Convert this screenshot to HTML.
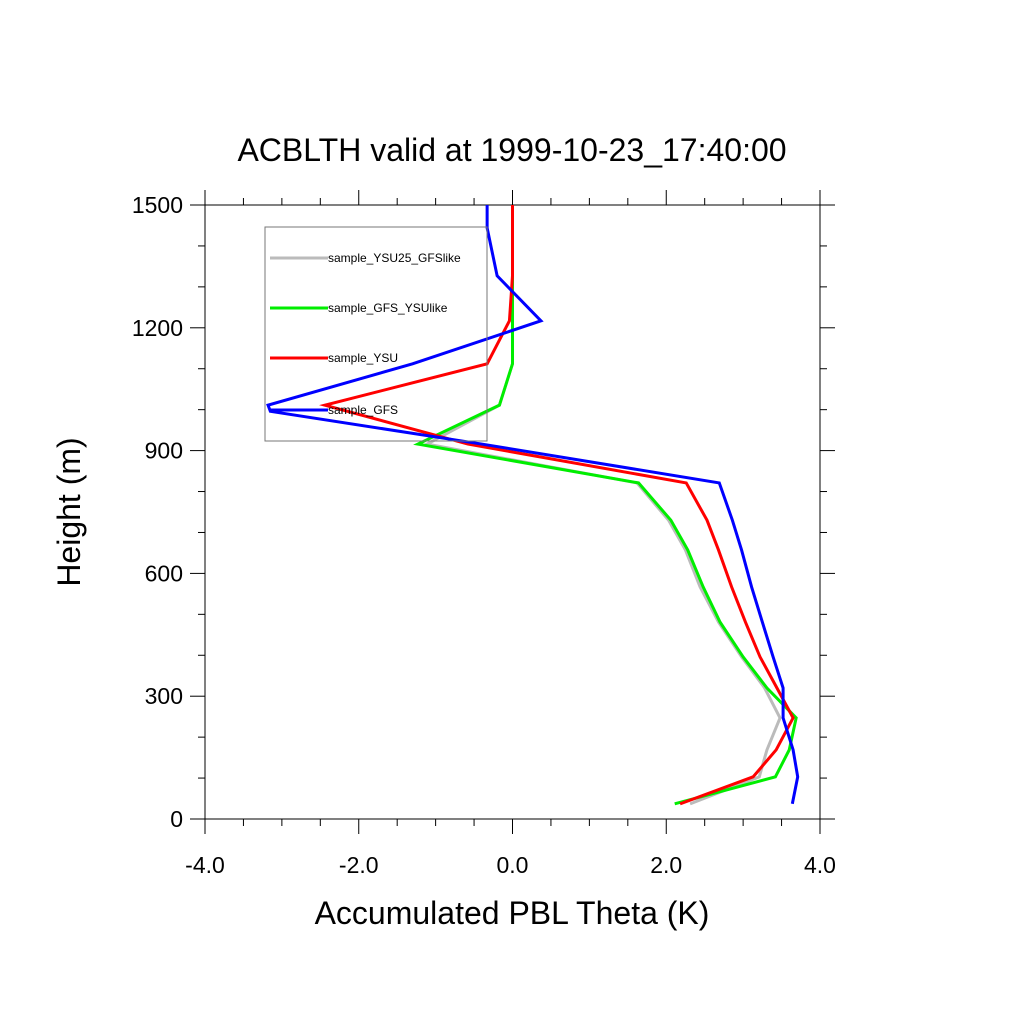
<!DOCTYPE html>
<html><head><meta charset="utf-8"><style>
body{margin:0;background:#fff}
svg{display:block;font-family:"Liberation Sans",sans-serif}
</style></head><body>
<svg id="chart" width="1024" height="1024" viewBox="0 0 1024 1024">
<rect width="1024" height="1024" fill="#fff"/>
<text x="512" y="161" font-size="32" text-anchor="middle">ACBLTH valid at 1999-10-23_17:40:00</text>
<text x="512" y="924" font-size="32" text-anchor="middle">Accumulated PBL Theta (K)</text>
<text x="0" y="0" font-size="32" text-anchor="middle" transform="translate(80,512) rotate(-90)">Height (m)</text>
<g id="axes"></g>
<g id="series"></g>
<g id="legend"></g>
</svg>
<script>
const heights = [37,103,169,247,320,396,481,567,657,730,821,916,1011,1112,1217,1327,1444,1500];
const grayVals = [2.31,3.21,3.31,3.48,3.28,2.98,2.68,2.44,2.25,2.03,1.62,-1.11,-0.17,0,0,0,0,0];
const greenVals = [2.11,3.42,3.6,3.69,3.31,3.0,2.7,2.48,2.28,2.06,1.64,-1.23,-0.17,0,0,0,0,0];
const redVals = [2.18,3.13,3.43,3.65,3.44,3.22,3.03,2.85,2.68,2.53,2.26,-0.58,-2.44,-0.33,-0.04,0,0,0];
const blueHeights = [37,103,169,247,320,396,481,567,657,730,821,916,996,1011,1112,1217,1327,1444,1500];
const blueVals = [3.64,3.71,3.65,3.52,3.52,3.39,3.25,3.11,2.98,2.86,2.69,-0.4,-3.15,-3.18,-1.3,0.37,-0.2,-0.33,-0.33];
const xTicks = [-4,-2,0,2,4];
const xTickLabels = ["-4.0","-2.0","0.0","2.0","4.0"];
const yTicks = [0,300,600,900,1200,1500];
const yTickLabels = ["0","300","600","900","1200","1500"];
const seriesNames = ["sample_YSU25_GFSlike","sample_GFS_YSUlike","sample_YSU","sample_GFS"];

const X0=205,X1=820,Y0=819,Y1=205;
const sx=v=>X0+(v+4)/8*(X1-X0);
const sy=h=>Y0-h/1500*(Y0-Y1);
const NS="http://www.w3.org/2000/svg";
function mk(tag,attrs,parent){const e=document.createElementNS(NS,tag);for(const k in attrs)e.setAttribute(k,attrs[k]);parent.appendChild(e);return e;}
const axes=document.getElementById('axes');
const frame=mk('rect',{x:X0,y:Y1,width:X1-X0,height:Y0-Y1,fill:'none',stroke:'#000','stroke-width':1},axes);


// minor ticks
for(let v=-4;v<=4.001;v+=0.5){
  const x=sx(v);const maj=Math.abs(v-Math.round(v/2)*2)<1e-6;const L=maj?15:7;
  const t1=mk('line',{x1:x,x2:x,y1:Y0,y2:Y0+L,stroke:'#000'},axes);
  
  
  const t2=mk('line',{x1:x,x2:x,y1:Y1,y2:Y1-L,stroke:'#000'},axes);
  
  
}
for(let h=0;h<=1500;h+=100){
  const y=sy(h);const L=(h%300===0)?15:7;
  const t1=mk('line',{x1:X0,x2:X0-L,y1:y,y2:y,stroke:'#000'},axes);
  
  
  const t2=mk('line',{x1:X1,x2:X1+L,y1:y,y2:y,stroke:'#000'},axes);
  
  
}
xTicks.forEach((v,i)=>{
  const t=mk('text',{x:sx(v),y:873,'font-size':23,'text-anchor':'middle'},axes);
  t.textContent=xTickLabels[i];
  
  
});
yTicks.forEach((v,i)=>{
  const t=mk('text',{x:183,y:sy(v)+8,'font-size':23,'text-anchor':'end'},axes);
  t.textContent=yTickLabels[i];
  
  
});
const ser=document.getElementById('series');
function line(hs,vs,color,name){
  const p=mk('polyline',{points:hs.map((h,i)=>sx(vs[i])+','+sy(h)).join(' '),fill:'none',stroke:color,'stroke-width':3,'stroke-linejoin':'miter'},ser);
  
  
}
line(heights,grayVals,'#bbbbbb','line-ysu25-gfslike');
line(heights,greenVals,'#00ee00','line-gfs-ysulike');
line(heights,redVals,'#ff0000','line-ysu');
line(blueHeights,blueVals,'#0000ff','line-gfs');
const lg=document.getElementById('legend');
const box=mk('rect',{x:265,y:227,width:222,height:214,fill:'none',stroke:'#777','stroke-width':1},lg);


const colors=['#bbbbbb','#00ee00','#ff0000','#0000ff'];
const ly=[258,308,358,410];
seriesNames.forEach((n,i)=>{
  const l=mk('line',{x1:270,x2:328,y1:ly[i],y2:ly[i],stroke:colors[i],'stroke-width':3},lg);
  
  
  const t=mk('text',{x:328,y:ly[i]+4,'font-size':12},lg);
  t.textContent=n;
  
  
});
</script>
</body></html>
